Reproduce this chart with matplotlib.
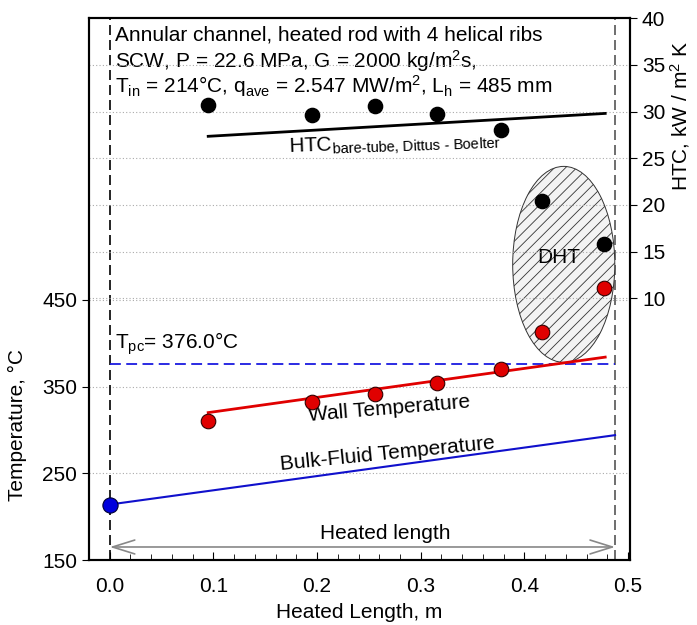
import matplotlib as mpl
mpl.use('Agg')
import matplotlib.pyplot as plt
from matplotlib.patches import Ellipse
from matplotlib.ticker import MultipleLocator

plt.rcParams['font.family'] = ['Liberation Sans', 'DejaVu Sans']
plt.rcParams['mathtext.fontset'] = 'custom'
plt.rcParams['mathtext.rm'] = 'Liberation Sans'
plt.rcParams['mathtext.it'] = 'Liberation Sans'
plt.rcParams['hatch.linewidth'] = 0.6

# measured HTC, kW/m2K
htc_x = [0.095, 0.195, 0.256, 0.316, 0.377, 0.417, 0.477]
htc_y = [30.7, 29.6, 30.6, 29.7, 28.0, 20.4, 15.8]
# Dittus-Boelter line
db_x = [0.095, 0.478]
db_y = [27.35, 29.8]
# wall temperature, C
tw_x = [0.095, 0.195, 0.256, 0.316, 0.377, 0.417, 0.477]
tw_y = [310, 332, 341, 354, 370, 413, 464]
tw_fit_x = [0.095, 0.478]
tw_fit_y = [320, 384]
# bulk fluid temperature
tb_x = [0.0, 0.4875]
tb_y = [214, 294]
t_in = 214
t_pc = 376.0
l_h = 0.4875

FS = 15

fig = plt.figure(figsize=(6.97, 6.25), dpi=100)
ax = fig.add_axes([0.1277, 0.104, 0.7763, 0.867])
ax2 = ax.twinx()

ax.set_xlim(-0.02, 0.502)
ax.set_ylim(150, 775)
ax2.set_ylim(-18, 40)

# grid lines (right axis ticks + left ticks)
for v in [10, 15, 20, 25, 30, 35]:
    ax2.axhline(v, color='#aaaaaa', lw=0.8, ls=(0, (1, 2)), zorder=0)
for v in [250, 350, 450]:
    ax.axhline(v, color='#aaaaaa', lw=0.8, ls=(0, (1, 2)), zorder=0)

ax.axvline(0.0, color='black', lw=1.2, ls=(0, (6, 3)), zorder=1)
ax.axvline(l_h, color='#555555', lw=1.2, ls=(0, (6, 3)), zorder=1)

ell = Ellipse((0.438, 491), 0.0985, 226, facecolor='#f3f3f3', edgecolor='#333333',
              lw=0.7, hatch='///', zorder=2)
ax.add_patch(ell)

ax.plot([0, l_h], [t_pc, t_pc], color='#1a1ae0', lw=1.3, ls=(0, (6, 3)), zorder=3)
ax.plot(tb_x, tb_y, color='#1010cc', lw=1.5, zorder=3)
ax.plot(tw_fit_x, tw_fit_y, color='#e00000', lw=2, zorder=3)
ax.scatter(tw_x, tw_y, s=110, color='#e00000', edgecolor='#330000', lw=0.8, zorder=5)
ax.scatter([0.0], [t_in], s=120, color='#0000dd', edgecolor='#000033', lw=0.8, zorder=5)

ax2.plot(db_x, db_y, color='black', lw=2, zorder=3)
ax2.scatter(htc_x, htc_y, s=105, color='black', zorder=5)

ax.annotate('', xy=(0.0, 165), xytext=(l_h, 165),
            arrowprops=dict(arrowstyle='<->, head_length=1.6, head_width=0.5',
                            color='#888888', lw=1.2, shrinkA=0, shrinkB=0))
ax.text(0.266, 170, 'Heated length', fontsize=FS, ha='center', va='bottom')

ax.text(0.27, 325, 'Wall Temperature', fontsize=FS, ha='center', va='center', rotation=4.8)
ax.text(0.268, 272, 'Bulk-Fluid Temperature', fontsize=FS, ha='center', va='center', rotation=5.7)
ax.text(0.005, 384, r'T$_{\rm pc}$= 376.0°C', fontsize=FS, ha='left', va='bottom')
ax.text(0.433, 499, 'DHT', fontsize=FS, ha='center', va='center', zorder=6)
ax2.text(0.275, 26.5, r'HTC$_{\text{bare-tube, Dittus - Boelter}}$', fontsize=FS,
         ha='center', va='center', rotation=2)

ax.text(0.005, 755, 'Annular channel, heated rod with 4 helical ribs', fontsize=FS, va='center')
ax.text(0.005, 725, r'SCW, P = 22.6 MPa, G = 2000 kg/m$^2$s,', fontsize=FS, va='center')
ax.text(0.005, 697, r'T$_{\rm in}$ = 214°C, q$_{\rm ave}$ = 2.547 MW/m$^2$, L$_{\rm h}$ = 485 mm',
        fontsize=FS, va='center')

ax.set_xticks([0.0, 0.1, 0.2, 0.3, 0.4, 0.5])
ax.set_xticklabels(['0.0', '0.1', '0.2', '0.3', '0.4', '0.5'])
ax.xaxis.set_minor_locator(MultipleLocator(0.02))
ax.tick_params(axis='x', which='both', direction='in', labelsize=FS, pad=12)
ax.tick_params(axis='x', which='major', length=6)
ax.tick_params(axis='x', which='minor', length=4)
ax.set_yticks([150, 250, 350, 450])
ax.tick_params(axis='y', direction='out', labelsize=FS, length=5)
ax2.set_yticks([10, 15, 20, 25, 30, 35, 40])
ax2.tick_params(axis='y', direction='out', labelsize=FS, length=5)

ax.set_xlabel('Heated Length, m', fontsize=FS, labelpad=5)
ax.set_ylabel('Temperature, °C', fontsize=FS)
ax.yaxis.set_label_coords(-0.115, 0.25)
ax2.set_ylabel(r'HTC, kW / m$^2$ K', fontsize=FS)
ax2.yaxis.set_label_coords(1.07, 0.82)

for a in (ax, ax2):
    for s in a.spines.values():
        s.set_linewidth(1.5)

fig.savefig('out.png', dpi=100)
